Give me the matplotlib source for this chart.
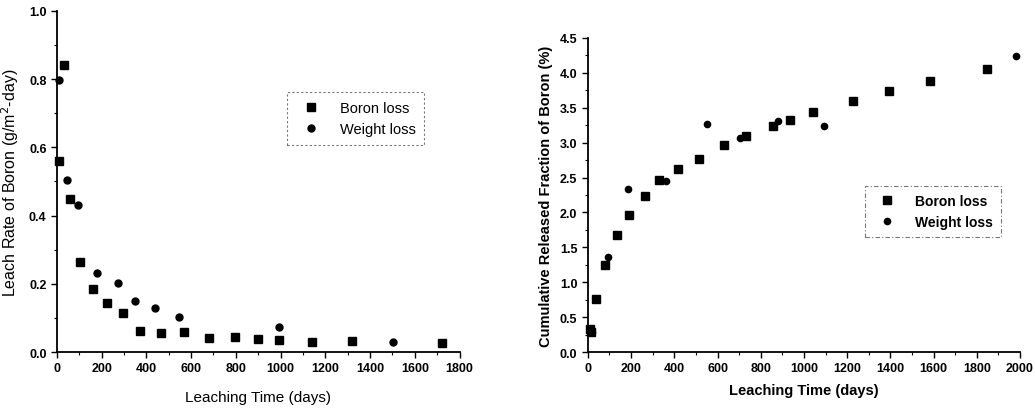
import numpy as np
import matplotlib.pyplot as plt
from matplotlib.ticker import MultipleLocator

plt.rcParams['font.family'] = ['Liberation Sans', 'DejaVu Sans']

# left panel: leach rate of boron
rate_boron_t = [10, 33, 58, 104, 162, 225, 296, 373, 466, 567, 682, 796, 900, 994, 1140, 1320, 1720]
rate_boron_v = [0.561, 0.842, 0.448, 0.264, 0.186, 0.143, 0.113, 0.063, 0.057, 0.060, 0.041, 0.045,
                0.039, 0.035, 0.030, 0.031, 0.026]
rate_weight_t = [10, 45, 92, 180, 274, 351, 439, 545, 994, 1503]
rate_weight_v = [0.798, 0.504, 0.431, 0.232, 0.201, 0.150, 0.128, 0.103, 0.074, 0.029]

# right panel: cumulative released fraction
cum_boron_t = [8, 14, 38, 77, 136, 191, 264, 331, 418, 513, 631, 732, 857, 937, 1042, 1226, 1396, 1585, 1846]
cum_boron_v = [0.33, 0.29, 0.76, 1.25, 1.67, 1.96, 2.24, 2.47, 2.62, 2.77, 2.97, 3.09, 3.24, 3.33,
               3.44, 3.59, 3.74, 3.89, 4.06]
cum_weight_t = [10, 20, 94, 187, 362, 552, 702, 879, 1092, 1980]
cum_weight_v = [0.31, 0.28, 1.36, 2.34, 2.45, 3.26, 3.07, 3.31, 3.24, 4.24]

fig = plt.figure(figsize=(10.35, 4.10), dpi=100)
ax1 = fig.add_axes([0.055, 0.139, 0.389, 0.832])
ax2 = fig.add_axes([0.568, 0.139, 0.4175, 0.766])

for ax in (ax1, ax2):
    ax.spines['top'].set_visible(False)
    ax.spines['right'].set_visible(False)
    ax.spines['left'].set_linewidth(1.3)
    ax.spines['bottom'].set_linewidth(1.3)
    ax.tick_params(which='major', direction='out', length=4, width=1, labelsize=9)
    ax.tick_params(which='minor', direction='out', length=2.5, width=0.8)
    ax.xaxis.set_major_locator(MultipleLocator(200))
    ax.xaxis.set_minor_locator(MultipleLocator(100))

ax1.plot(rate_boron_t, rate_boron_v, 's', color='black', ms=5.5, label='Boron loss', clip_on=False)
ax1.plot(rate_weight_t, rate_weight_v, 'o', color='black', ms=5, label='Weight loss', clip_on=False)
ax1.set_xlim(0, 1800)
ax1.set_ylim(0, 1.0)
ax1.yaxis.set_major_locator(MultipleLocator(0.2))
ax1.yaxis.set_minor_locator(MultipleLocator(0.1))
ax1.set_xlabel('Leaching Time (days)', fontsize=11, labelpad=11)
ax1.set_ylabel('Leach Rate of Boron (g/m$^{2}$-day)', fontsize=11.5, labelpad=6)
leg1 = ax1.legend(loc='upper left', bbox_to_anchor=(0.572, 0.762), fontsize=10.5, frameon=True,
                  fancybox=False, edgecolor='#555555', handletextpad=1.0, borderpad=0.6,
                  borderaxespad=0)
leg1.get_frame().set_linestyle((0, (2, 2)))
leg1.get_frame().set_linewidth(0.8)

ax2.plot(cum_boron_t, cum_boron_v, 's', color='black', ms=5.5, label='Boron loss', clip_on=False)
ax2.plot(cum_weight_t, cum_weight_v, 'o', color='black', ms=4.5, label='Weight loss', clip_on=False)
ax2.set_xlim(0, 2000)
ax2.set_ylim(0, 4.5)
ax2.yaxis.set_major_locator(MultipleLocator(0.5))
ax2.yaxis.set_minor_locator(MultipleLocator(0.25))
ax2.set_xlabel('Leaching Time (days)', fontsize=10.5, fontweight='bold', labelpad=6)
ax2.set_ylabel('Cumulative Released Fraction of Boron (%)', fontsize=10.5, fontweight='bold', labelpad=5)
leg2 = ax2.legend(loc='upper left', bbox_to_anchor=(0.641, 0.529), frameon=True,
                  fancybox=False, edgecolor='#555555', handletextpad=1.0, borderpad=0.6,
                  borderaxespad=0, prop={'weight': 'bold', 'size': 10})
leg2.get_frame().set_linestyle((0, (4, 2, 1, 2)))
leg2.get_frame().set_linewidth(0.8)

for ax in (ax1, ax2):
    for lab in ax.get_xticklabels() + ax.get_yticklabels():
        lab.set_fontweight('bold')

fig.savefig('out.png', dpi=100)
